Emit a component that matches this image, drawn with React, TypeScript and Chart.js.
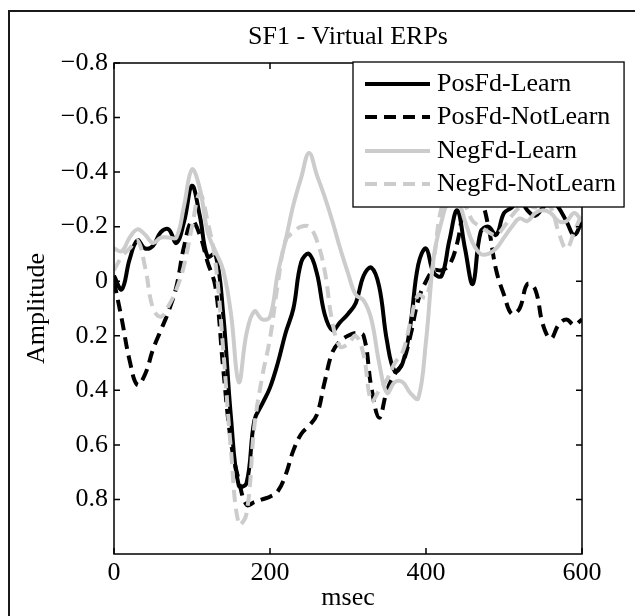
import React, { useEffect, useRef } from 'react';
import { Chart, registerables } from 'chart.js';

Chart.register(...registerables);

// ---------- data ----------
const times = [
  0, 10, 20, 30, 40, 50, 60, 70, 80, 90,
  100, 110, 120, 130, 140, 150, 160, 170, 180, 190,
  200, 210, 220, 230, 240, 250, 260, 270, 280, 290,
  300, 310, 320, 330, 340, 350, 360, 370, 380, 390,
  400, 410, 420, 430, 440, 450, 460, 470, 480, 490,
  500, 510, 520, 530, 540, 550, 560, 570, 580, 590,
  600,
];

const posFdLearn = [
  -0.02, 0.03, -0.08, -0.15, -0.12, -0.13, -0.18, -0.19, -0.14, -0.22,
  -0.35, -0.24, -0.09, -0.10, 0.12, 0.50, 0.75, 0.74, 0.51, 0.45,
  0.39, 0.30, 0.19, 0.10, -0.07, -0.10, -0.03, 0.12, 0.18, 0.15,
  0.12, 0.08, -0.02, -0.05, 0.02, 0.22, 0.33, 0.30, 0.16, -0.06,
  -0.12, -0.03, -0.02, -0.15, -0.26, -0.12, 0.01, -0.18, -0.20, -0.17,
  -0.25, -0.27, -0.30, -0.26, -0.24, -0.27, -0.30, -0.27, -0.22, -0.17,
  -0.22,
];

const posFdNotLearn = [
  0.0, 0.14, 0.29, 0.38, 0.34, 0.25, 0.18, 0.11, 0.02, -0.13,
  -0.22, -0.17, -0.07, 0.02, 0.32, 0.59, 0.73, 0.82, 0.81, 0.80,
  0.79, 0.77, 0.71, 0.62, 0.56, 0.53, 0.49, 0.37, 0.26, 0.22,
  0.20, 0.19, 0.20, 0.39, 0.50, 0.40, 0.34, 0.30, 0.20, 0.07,
  0.0, -0.04, -0.04, -0.06, -0.14, -0.28, -0.32, -0.30, -0.20, -0.04,
  0.05, 0.12, 0.10, 0.01, 0.03, 0.16, 0.21, 0.16, 0.14, 0.16,
  0.14,
];

const negFdLearn = [
  -0.12, -0.11, -0.16, -0.19, -0.17, -0.14, -0.16, -0.16, -0.16, -0.28,
  -0.41, -0.34, -0.18, -0.11, -0.04, 0.12, 0.37, 0.19, 0.11, 0.14,
  0.13, -0.03, -0.15, -0.28, -0.38, -0.47, -0.39, -0.31, -0.22, -0.12,
  -0.03, 0.05, 0.07, 0.14, 0.30, 0.41, 0.37, 0.37, 0.41, 0.43,
  0.22, -0.09, -0.22, -0.30, -0.30, -0.22, -0.14, -0.10, -0.10, -0.12,
  -0.16, -0.20, -0.23, -0.22, -0.25, -0.26, -0.25, -0.22, -0.22, -0.25,
  -0.22,
];

const negFdNotLearn = [
  -0.04, -0.09, -0.12, -0.15, -0.05, 0.10, 0.13, 0.09, 0.03, -0.06,
  -0.20, -0.32, -0.22, -0.07, 0.25, 0.62, 0.89, 0.85, 0.53, 0.35,
  0.21, 0.01, -0.15, -0.18, -0.20, -0.20, -0.15, -0.04, 0.15, 0.24,
  0.23, 0.20, 0.27, 0.44, 0.40, 0.36, 0.30, 0.26, 0.15, 0.05,
  0.06, -0.08, -0.27, -0.30, -0.32, -0.28, -0.22, -0.20, -0.18, -0.17,
  -0.20, -0.24, -0.27, -0.28, -0.27, -0.28, -0.27, -0.18, -0.12, -0.18,
  -0.25,
];

const seriesLabels = ['PosFd-Learn', 'PosFd-NotLearn', 'NegFd-Learn', 'NegFd-NotLearn'];
const yTickValues = [-0.8, -0.6, -0.4, -0.2, 0, 0.2, 0.4, 0.6, 0.8];
const yTickLabels = ['\u22120.8', '\u22120.6', '\u22120.4', '\u22120.2', '0', '0.2', '0.4', '0.6', '0.8'];
const xTickValues = [0, 200, 400, 600];
const xTickLabels = ['0', '200', '400', '600'];
const titleText = 'SF1 - Virtual ERPs';
const xTitle = 'msec';
const yTitle = 'Amplitude';

// ---------- styles ----------
const FONT = "'Liberation Serif', 'Times New Roman', serif";
const FS = 26;
const GREY = '#cccccc';
const DASH = [12, 7];
const LW = 4;
const seriesStyles = [
  { color: '#000000', dash: [] as number[] },
  { color: '#000000', dash: DASH },
  { color: GREY, dash: [] as number[] },
  { color: GREY, dash: DASH },
];
const seriesValues = [posFdLearn, posFdNotLearn, negFdLearn, negFdNotLearn];

const W = 635;
const H = 608;

const decorPlugin = {
  id: 'decor',
  afterDraw(chart: any) {
    const { ctx, chartArea: a, scales } = chart;
    ctx.save();
    // outer figure frame
    ctx.fillStyle = '#1a1a1a';
    ctx.fillRect(0, 2, chart.width, 2);
    ctx.fillRect(0, 2, 2, chart.height);

    // axes box
    ctx.strokeStyle = '#000';
    ctx.lineWidth = 1.5;
    ctx.setLineDash([]);
    ctx.strokeRect(a.left, a.top, a.right - a.left, a.bottom - a.top);

    // inward ticks on all sides
    const tl = 6;
    ctx.beginPath();
    xTickValues.forEach((v) => {
      const px = scales.x.getPixelForValue(v);
      ctx.moveTo(px, a.bottom);
      ctx.lineTo(px, a.bottom - tl);
      ctx.moveTo(px, a.top);
      ctx.lineTo(px, a.top + tl);
    });
    yTickValues.forEach((v) => {
      const py = scales.y.getPixelForValue(v);
      ctx.moveTo(a.left, py);
      ctx.lineTo(a.left + tl, py);
      ctx.moveTo(a.right, py);
      ctx.lineTo(a.right - tl, py);
    });
    ctx.stroke();

    // legend
    ctx.font = `${FS}px ${FONT}`;
    const lx = a.left + 239;
    const ly = a.top - 1;
    const lineX0 = lx + 12;
    const lineX1 = lx + 77;
    const textX = lx + 84;
    const rowYs = [21, 54, 88, 121].map((d) => a.top + d);
    let maxW = 0;
    seriesLabels.forEach((s) => {
      maxW = Math.max(maxW, ctx.measureText(s).width);
    });
    const boxW = textX + maxW + 8 - lx;
    const boxH = 145;
    ctx.fillStyle = '#fff';
    ctx.fillRect(lx, ly, boxW, boxH);
    ctx.lineWidth = 1.3;
    ctx.strokeStyle = '#000';
    ctx.strokeRect(lx, ly, boxW, boxH);
    seriesLabels.forEach((s, i) => {
      const st = seriesStyles[i];
      ctx.beginPath();
      ctx.setLineDash(st.dash);
      ctx.strokeStyle = st.color;
      ctx.lineWidth = LW;
      ctx.moveTo(lineX0, rowYs[i]);
      ctx.lineTo(lineX1, rowYs[i]);
      ctx.stroke();
      ctx.setLineDash([]);
      ctx.fillStyle = '#000';
      ctx.textBaseline = 'middle';
      ctx.textAlign = 'left';
      ctx.fillText(s, textX, rowYs[i]);
    });
    ctx.restore();
  },
};

export default function App() {
  const ref = useRef<HTMLCanvasElement>(null);

  useEffect(() => {
    if (!ref.current) return;
    const datasets = seriesLabels.map((label, i) => ({
      label,
      data: times.map((t, j) => ({ x: t, y: seriesValues[i][j] })),
      borderColor: seriesStyles[i].color,
      backgroundColor: seriesStyles[i].color,
      borderDash: seriesStyles[i].dash,
      borderWidth: LW,
      pointRadius: 0,
      tension: 0.4,
      fill: false,
      order: 4 - i,
    }));

    const chart = new Chart(ref.current, {
      type: 'line',
      data: { datasets },
      options: {
        animation: false,
        responsive: false,
        devicePixelRatio: 1,
        layout: { padding: { left: 0, right: 61, top: 0, bottom: 0 } },
        plugins: {
          legend: { display: false },
          tooltip: { enabled: false },
          title: {
            display: true,
            text: titleText,
            fullSize: false,
            color: '#000',
            font: { family: FONT, size: FS, weight: 'normal', lineHeight: 1.2 },
            padding: { top: 14, bottom: 9.8 },
          },
        },
        scales: {
          x: {
            type: 'linear',
            min: 0,
            max: 600,
            grid: { display: false, drawTicks: false },
            border: { display: false },
            afterBuildTicks: (scale: any) => {
              scale.ticks = xTickValues.map((v) => ({ value: v }));
            },
            afterFit: (scale: any) => {
              scale.height = 62;
            },
            ticks: {
              color: '#000',
              padding: 4,
              maxRotation: 0,
              font: { family: FONT, size: FS },
              callback: (v: any) => {
                const k = xTickValues.indexOf(Number(v));
                return k >= 0 ? xTickLabels[k] : '';
              },
            },
            title: {
              display: true,
              text: xTitle,
              color: '#000',
              font: { family: FONT, size: FS, lineHeight: 1.2 },
              padding: { top: 0, bottom: 2 },
            },
          },
          y: {
            type: 'linear',
            reverse: true,
            min: -0.8,
            max: 1.0,
            grid: { display: false, drawTicks: false },
            border: { display: false },
            afterBuildTicks: (scale: any) => {
              scale.ticks = yTickValues.map((v) => ({ value: v }));
            },
            afterFit: (scale: any) => {
              scale.width = 106;
            },
            ticks: {
              color: '#000',
              padding: 6,
              font: { family: FONT, size: FS },
              callback: (v: any) => {
                const k = yTickValues.findIndex((t) => Math.abs(t - Number(v)) < 1e-6);
                return k >= 0 ? yTickLabels[k] : '';
              },
            },
            title: {
              display: true,
              text: yTitle,
              color: '#000',
              font: { family: FONT, size: FS, lineHeight: 1.2 },
              padding: { top: 14, bottom: 0 },
            },
          },
        },
      },
      plugins: [decorPlugin],
    } as any);

    return () => chart.destroy();
  }, []);

  return (
    <div style={{ width: W, height: H }}>
      <canvas ref={ref} width={W} height={H} style={{ display: 'block', width: W, height: H }} />
    </div>
  );
}
